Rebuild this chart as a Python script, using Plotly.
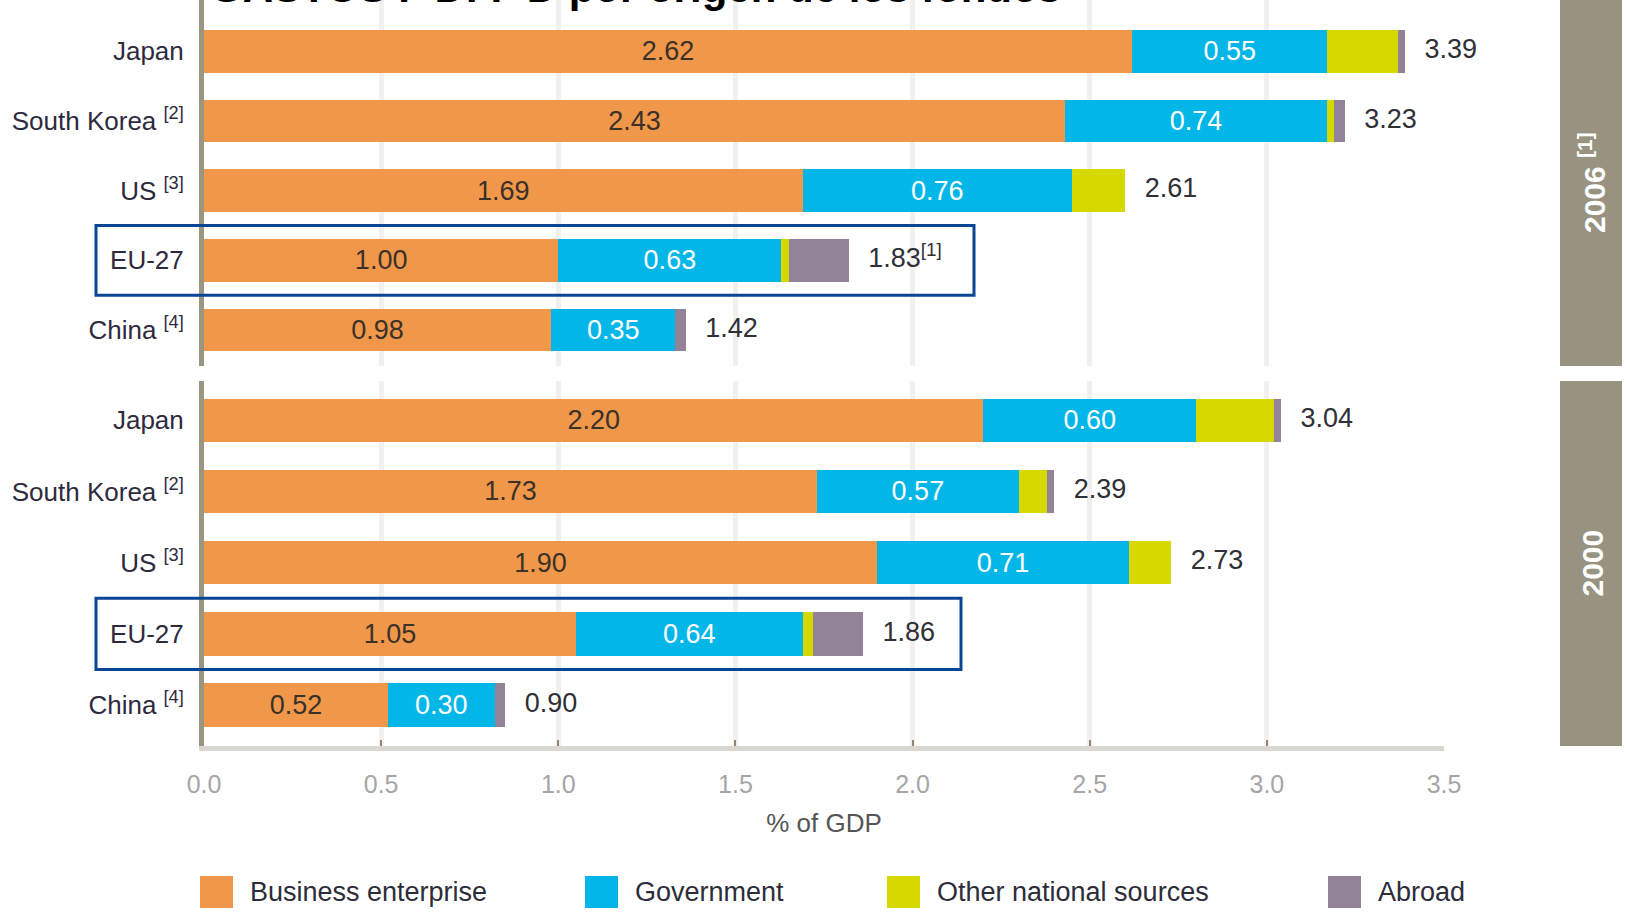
import plotly.graph_objects as go

# ---------------- data ----------------
countries = ["Japan", "South Korea", "US", "EU-27", "China"]
country_labels = ["Japan", "South Korea <sup>[2]</sup>", "US <sup>[3]</sup>", "EU-27", "China <sup>[4]</sup>"]

series_names = ["Business enterprise", "Government", "Other national sources", "Abroad"]

business_2006 = [2.62, 2.43, 1.69, 1.00, 0.98]
government_2006 = [0.55, 0.74, 0.76, 0.63, 0.35]
other_2006 = [0.20, 0.02, 0.15, 0.02, 0.00]
abroad_2006 = [0.02, 0.03, 0.00, 0.17, 0.03]
totals_2006 = ["3.39", "3.23", "2.61", "1.83<sup>[1]</sup>", "1.42"]

business_2000 = [2.20, 1.73, 1.90, 1.05, 0.52]
government_2000 = [0.60, 0.57, 0.71, 0.64, 0.30]
other_2000 = [0.22, 0.08, 0.12, 0.03, 0.00]
abroad_2000 = [0.02, 0.02, 0.00, 0.14, 0.03]
totals_2000 = ["3.04", "2.39", "2.73", "1.86", "0.90"]

x_ticks = [0.0, 0.5, 1.0, 1.5, 2.0, 2.5, 3.0, 3.5]
year_labels = ["2006 <sup>[1]</sup>", "2000"]
title_text = "GASTOS I+D: I+D por origen de los fondos"

# ---------------- styles ----------------
colors = ["#f1974a", "#02b6e8", "#d5d900", "#928399"]
seg_text_colors = ["#3a3128", "#ffffff"]
FONT = "Liberation Sans, Arial, sans-serif"
W, H = 1630, 915
ML, MR, MT, MB = 204, 186, 0, 169
PW, PH = W - ML - MR, H - MT - MB

def px_x(p):
    return (p - ML) / PW

def px_y(p):
    return (PH - (p - MT)) / PH

fig = go.Figure()

groups = [
    ([business_2006, government_2006, other_2006, abroad_2006], totals_2006, "x", "y"),
    ([business_2000, government_2000, other_2000, abroad_2000], totals_2000, "x2", "y2"),
]

for series, totals, xa, ya in groups:
    for i, vals in enumerate(series):
        kw = {}
        if i < 2:
            kw = dict(
                texttemplate="%{x:.2f}",
                textposition="inside",
                insidetextanchor="middle",
                textangle=0,
                textfont=dict(family=FONT, size=27, color=seg_text_colors[i]),
            )
        fig.add_trace(go.Bar(
            orientation="h", y=countries, x=vals, name=series_names[i],
            marker=dict(color=colors[i], line=dict(width=0)),
            width=0.61, showlegend=False, xaxis=xa, yaxis=ya,
            hoverinfo="skip", **kw))
    sums = [sum(v) for v in zip(*series)]
    fig.add_trace(go.Scatter(
        x=[s + 0.055 for s in sums], y=countries, mode="text", text=totals,
        textposition="middle right", cliponaxis=False, showlegend=False,
        textfont=dict(family=FONT, size=27, color="#2f2f36"),
        xaxis=xa, yaxis=ya, hoverinfo="skip"))

grid = dict(showgrid=True, gridcolor="#f1f0ee", gridwidth=5, zeroline=False,
            range=[0, 3.5], tickvals=x_ticks, fixedrange=True)

yax_common = dict(type="category", categoryarray=countries,
                  tickvals=countries, ticktext=country_labels, ticks="",
                  showline=True, linecolor="#9a9681", linewidth=5,
                  ticklabelstandoff=10, showgrid=False, fixedrange=True,
                  automargin=False,
                  tickfont=dict(family=FONT, size=26, color="#2e2a3e"))

fig.update_layout(
    width=W, height=H,
    margin=dict(l=ML, r=MR, t=MT, b=MB, autoexpand=False),
    paper_bgcolor="white", plot_bgcolor="white",
    barmode="stack",
    uniformtext=dict(mode="show", minsize=27),
    showlegend=False,
    xaxis=dict(domain=[0, 1], anchor="y", showticklabels=False, ticks="", showline=False,
               automargin=False, **grid),
    xaxis2=dict(domain=[0, 1], anchor="y2", showticklabels=True, tickformat=".1f",
                ticks="inside", ticklen=6, tickwidth=2, tickcolor="#8d8975",
                showline=True, linecolor="#d8d7d1", linewidth=5,
                ticklabelstandoff=12, automargin=False,
                tickfont=dict(family=FONT, size=25, color="#a5a5a5"),
                title=dict(text="% of GDP", standoff=18,
                           font=dict(family=FONT, size=26, color="#555555")),
                **grid),
    yaxis=dict(domain=[px_y(366), 1], anchor="x", range=[4.517, -0.736], **yax_common),
    yaxis2=dict(domain=[0, px_y(381)], anchor="x2", range=[4.576, -0.552], **yax_common),
)

shapes = []
annotations = []

# EU-27 highlight boxes
eu_idx = countries.index("EU-27")
for ya, right in (("y", 974), ("y2", 961)):
    shapes.append(dict(type="rect", xref="paper", yref=ya,
                       x0=px_x(96), x1=px_x(right), y0=eu_idx - 0.5, y1=eu_idx + 0.5,
                       line=dict(color="#0b4596", width=3), fillcolor="rgba(0,0,0,0)", layer="above"))

# year bands on the right
for ya, lab in (("y domain", year_labels[0]), ("y2 domain", year_labels[1])):
    shapes.append(dict(type="rect", xref="paper", yref=ya,
                       x0=px_x(1560), x1=px_x(1622), y0=0, y1=1,
                       fillcolor="#979380", line=dict(width=0), layer="below"))
    annotations.append(dict(xref="paper", yref=ya, x=px_x(1592), y=0.5,
                            text="<b>" + lab + "</b>", textangle=-90, showarrow=False,
                            font=dict(family=FONT, size=30, color="white"),
                            xanchor="center", yanchor="middle"))

# legend (manual, large square swatches)
legend_x = [200, 585, 887, 1328]
for i, name in enumerate(series_names):
    x0 = legend_x[i]
    shapes.append(dict(type="rect", xref="paper", yref="paper",
                       x0=px_x(x0), x1=px_x(x0 + 33), y0=px_y(908), y1=px_y(876),
                       fillcolor=colors[i], line=dict(width=0)))
    annotations.append(dict(xref="paper", yref="paper", x=px_x(x0 + 48), y=px_y(892),
                            text=name, showarrow=False, xanchor="left", yanchor="middle",
                            font=dict(family=FONT, size=27, color="#2d2d3a")))

# title, mostly cut off at top as in the reference
annotations.append(dict(xref="paper", yref="paper", x=px_x(208), y=1, yshift=-13,
                        text="<b>" + title_text + "</b>", showarrow=False,
                        xanchor="left", yanchor="bottom",
                        font=dict(family=FONT, size=42, color="black")))

fig.update_layout(shapes=shapes, annotations=annotations)

fig.write_html("out.html", config={"displayModeBar": False},
               post_script="document.body.style.margin='0';document.body.style.padding='0';")
